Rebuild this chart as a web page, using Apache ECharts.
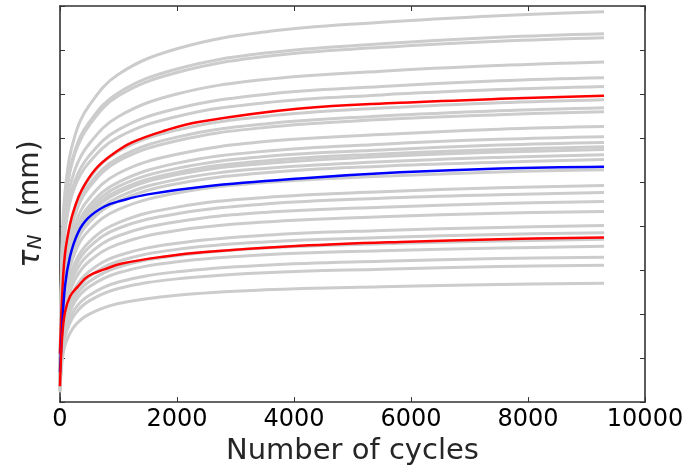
<!DOCTYPE html>
<html>
<head>
<meta charset="utf-8">
<script src="https://cdn.jsdelivr.net/npm/echarts@6/dist/echarts.min.js"></script>
<style>html,body{margin:0;padding:0;background:#fff}#c{width:692px;height:471px}</style>
</head>
<body>
<div id="c"></div>
<script>
// x positions (number of cycles) for gray curves
const cycles = [0, 40, 100, 250, 500, 1000, 2000, 3500, 5500, 7500, 9300];
const gray01 = [0.53, 3.73, 4.97, 6.03, 6.74, 7.45, 8.03, 8.41, 8.63, 8.78, 8.87];
const gray02 = [0.50, 3.52, 4.69, 5.69, 6.36, 7.03, 7.57, 7.93, 8.14, 8.29, 8.37];
const gray03 = [0.50, 3.48, 4.64, 5.63, 6.29, 6.96, 7.49, 7.85, 8.06, 8.20, 8.28];
const gray04 = [0.46, 3.25, 4.33, 5.26, 5.87, 6.49, 7.00, 7.33, 7.52, 7.65, 7.73];
const gray05 = [0.44, 3.10, 4.13, 5.01, 5.60, 6.19, 6.67, 6.99, 7.17, 7.30, 7.37];
const gray06 = [0.43, 3.01, 4.02, 4.88, 5.45, 6.02, 6.49, 6.80, 6.98, 7.10, 7.17];
const gray07 = [0.55, 2.47, 3.44, 4.40, 5.08, 5.70, 6.18, 6.49, 6.68, 6.80, 6.87];
const gray08 = [0.54, 2.41, 3.35, 4.28, 4.95, 5.55, 6.02, 6.32, 6.50, 6.62, 6.69];
const gray09 = [0.53, 2.38, 3.30, 4.22, 4.88, 5.48, 5.94, 6.24, 6.42, 6.53, 6.60];
const gray10 = [0.50, 2.25, 3.13, 4.01, 4.63, 5.20, 5.63, 5.92, 6.08, 6.20, 6.26];
const gray11 = [0.48, 2.17, 3.02, 3.86, 4.46, 5.00, 5.43, 5.70, 5.86, 5.97, 6.03];
const gray12 = [0.47, 2.12, 2.95, 3.78, 4.37, 4.90, 5.31, 5.58, 5.73, 5.84, 5.90];
const gray13 = [0.46, 2.09, 2.90, 3.71, 4.29, 4.81, 5.22, 5.48, 5.64, 5.74, 5.80];
const gray14 = [0.46, 2.07, 2.87, 3.67, 4.25, 4.76, 5.17, 5.42, 5.58, 5.68, 5.74];
const gray15 = [0.45, 2.02, 2.81, 3.60, 4.16, 4.66, 5.06, 5.31, 5.46, 5.56, 5.62];
const gray16 = [0.44, 1.98, 2.76, 3.53, 4.08, 4.57, 4.96, 5.21, 5.36, 5.45, 5.51];
const gray17 = [0.42, 1.90, 2.64, 3.38, 3.91, 4.38, 4.75, 4.99, 5.13, 5.23, 5.28];
const gray18 = [0.39, 1.77, 2.46, 3.15, 3.64, 4.08, 4.43, 4.65, 4.78, 4.87, 4.92];
const gray19 = [0.38, 1.71, 2.38, 3.05, 3.52, 3.95, 4.28, 4.50, 4.63, 4.71, 4.76];
const gray20 = [0.36, 1.64, 2.28, 2.92, 3.37, 3.78, 4.10, 4.31, 4.43, 4.51, 4.56];
const gray21 = [0.35, 1.56, 2.17, 2.77, 3.20, 3.59, 3.90, 4.09, 4.21, 4.29, 4.33];
const gray22 = [0.32, 1.44, 2.01, 2.57, 2.97, 3.33, 3.61, 3.79, 3.90, 3.97, 4.01];
const gray23 = [0.31, 1.39, 1.93, 2.46, 2.85, 3.20, 3.47, 3.64, 3.74, 3.81, 3.85];
const gray24 = [0.30, 1.33, 1.85, 2.37, 2.74, 3.07, 3.33, 3.50, 3.60, 3.66, 3.70];
const gray25 = [0.28, 1.27, 1.77, 2.27, 2.62, 2.94, 3.19, 3.35, 3.44, 3.50, 3.54];
const gray26 = [0.26, 1.18, 1.65, 2.11, 2.43, 2.73, 2.96, 3.11, 3.20, 3.26, 3.29];
const gray27 = [0.25, 1.12, 1.56, 1.99, 2.30, 2.58, 2.80, 2.94, 3.02, 3.08, 3.11];
const gray28 = [0.22, 0.97, 1.35, 1.73, 2.00, 2.24, 2.43, 2.55, 2.62, 2.67, 2.70];
const grayCurves = [gray01, gray02, gray03, gray04, gray05, gray06, gray07, gray08, gray09, gray10,
  gray11, gray12, gray13, gray14, gray15, gray16, gray17, gray18, gray19, gray20,
  gray21, gray22, gray23, gray24, gray25, gray26, gray27, gray28];

const redUpperN = [0, 34, 85, 171, 256, 376, 598, 889, 1231, 1795, 2393, 4103, 5812, 7521, 9300];
const redUpper  = [1.10, 2.34, 3.36, 4.04, 4.44, 4.83, 5.28, 5.62, 5.90, 6.17, 6.37, 6.67, 6.80, 6.89, 6.96];
const blueN     = [0, 34, 85, 171, 308, 479, 769, 1060, 1500, 2479, 4103, 5812, 7521, 9300];
const blueMid   = [0.68, 1.59, 2.63, 3.31, 3.85, 4.18, 4.45, 4.58, 4.72, 4.90, 5.08, 5.22, 5.31, 5.35];
const redLowerN = [0, 34, 85, 171, 308, 479, 769, 1060, 1795, 2479, 4103, 5812, 7521, 9300];
const redLower  = [0.36, 1.43, 2.04, 2.40, 2.63, 2.86, 3.02, 3.15, 3.31, 3.41, 3.55, 3.64, 3.70, 3.74];

const xTicks = [0, 2000, 4000, 6000, 8000, 10000];

const pair = (xs, ys) => xs.map((x, i) => [x, ys[i]]);
const FONT = 'DejaVu Sans';
const series = [];
grayCurves.forEach(g => series.push({
  type: 'line', data: pair(cycles, g), showSymbol: false, smooth: 0.4,
  lineStyle: { color: '#cccccc', width: 3 }, silent: true, z: 2
}));
series.push({ type: 'line', data: pair(redUpperN, redUpper), showSymbol: false, smooth: 0.4,
  lineStyle: { color: '#ff0000', width: 2.5 }, z: 3 });
series.push({ type: 'line', data: pair(blueN, blueMid), showSymbol: false, smooth: 0.4,
  lineStyle: { color: '#0000ff', width: 2.5 }, z: 3 });
series.push({ type: 'line', data: pair(redLowerN, redLower), showSymbol: false, smooth: 0.4,
  lineStyle: { color: '#ff0000', width: 2.5 }, z: 3 });

const axisLine = { show: true, onZero: false, lineStyle: { color: '#333333', width: 1.6 } };
const tick = { show: true, inside: true, length: 5, lineStyle: { color: '#333333', width: 1 } };

const chart = echarts.init(document.getElementById('c'), null, { renderer: 'canvas' });
chart.setOption({
  animation: false,
  backgroundColor: '#ffffff',
  grid: { left: 60, right: 47, top: 6, bottom: 68, containLabel: false },
  xAxis: [{
    type: 'value', min: xTicks[0], max: xTicks[xTicks.length - 1], interval: 2000,
    axisLine, axisTick: tick, splitLine: { show: false },
    axisLabel: { fontFamily: FONT, fontSize: 24, color: '#000', margin: 6,
      formatter: v => String(v) },
    name: 'Number of cycles', nameLocation: 'middle', nameGap: 32,
    nameTextStyle: { fontFamily: FONT, fontSize: 29, color: '#262626' }
  }, {
    type: 'value', position: 'top', min: 0, max: 10000, interval: 2000,
    axisLine, axisTick: tick, axisLabel: { show: false }, splitLine: { show: false }
  }],
  yAxis: [{
    type: 'value', min: 0, max: 9, interval: 1,
    axisLine, axisTick: tick, axisLabel: { show: false }, splitLine: { show: false },
    name: '{t|τ}{s|N}{n|  (mm)}', nameLocation: 'middle', nameGap: 14,
    nameTextStyle: {
      fontFamily: FONT, fontSize: 28, color: '#262626',
      rich: {
        t: { fontFamily: FONT, fontStyle: 'italic', fontSize: 30, color: '#262626' },
        s: { fontFamily: FONT, fontStyle: 'italic', fontSize: 20, color: '#262626', verticalAlign: 'bottom', padding: [10, 0, 0, 0] },
        n: { fontFamily: FONT, fontSize: 28, color: '#262626' }
      }
    }
  }, {
    type: 'value', position: 'right', min: 0, max: 9, interval: 1,
    axisLine, axisTick: tick, axisLabel: { show: false }, splitLine: { show: false }
  }],
  series
});
</script>
</body>
</html>
